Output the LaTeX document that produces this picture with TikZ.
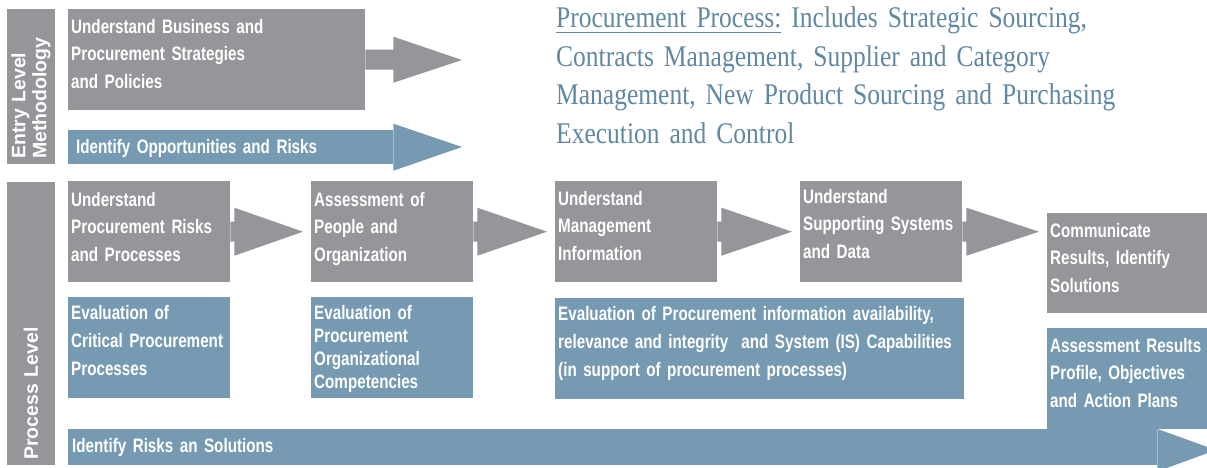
\documentclass[tikz,border=0pt]{standalone}
\usepackage{fontspec}
\usetikzlibrary{calc}

\setmainfont{Liberation Serif}
\newfontfamily\boxfont{Liberation Sans}[FakeStretch=0.78]
\newfontfamily\sidefont{Liberation Sans}
\newfontfamily\headfont{Liberation Serif}[FakeStretch=0.85]
\hyphenpenalty=10000
\exhyphenpenalty=10000

\definecolor{greyc}{RGB}{150,149,154}
\definecolor{bluec}{RGB}{117,154,177}
\definecolor{titlec}{RGB}{96,136,163}

% underlined words in the heading
\newcommand{\headul}[1]{\setbox0\hbox{#1}\rlap{\rule[-5.3pt]{\wd0}{1.3pt}}\box0\relax}

% grey step arrow from one box to the next one
\newcommand{\steparrow}[2]{%
  \fill[greyc] ($(#1.east)+(0pt,10pt)$) -- ($(#1.east)+(4pt,10pt)$) -- ($(#1.east)+(4pt,24pt)$)
    -- ($(#2.west |- #1.east)+(-8pt,0pt)$)
    -- ($(#1.east)+(4pt,-24pt)$) -- ($(#1.east)+(4pt,-10pt)$) -- ($(#1.east)+(0pt,-10pt)$) -- cycle;}

\begin{document}
\begin{tikzpicture}[x=1pt,y=-1pt,
  greybox/.style={fill=greyc, text=white, anchor=north west, inner xsep=3pt, inner ysep=0pt,
    text width=156pt, align=left, font=\boxfont\bfseries\fontsize{19.5}{27.5}\selectfont,
    text height=25pt, text depth=76pt},
  bluebox/.style={greybox, fill=bluec},
  levelbar/.style={fill=greyc, text=white, rotate=90, anchor=south west, inner xsep=5pt, inner ysep=0pt,
    minimum height=48pt, align=left, font=\sidefont\bfseries\fontsize{19.5}{21}\selectfont}]
\path[use as bounding box, fill=white] (0,0) rectangle (1207,468);

% level bars on the left
\node[levelbar, text width=145pt] (entrybar) at (55,164) {Entry Level\\Methodology};
\node[levelbar, text width=273pt] (procbar) at (55,465) {Process Level};

% entry level
\node[greybox, text width=291pt, text height=24pt, text depth=77pt] (ent1) at (68,9)
  {Understand Business and\\Procurement Strategies\\and Policies};
\coordinate (enttip) at (462,60);
\fill[greyc] ($(ent1.east)+(0pt,10pt)$) -- ($(ent1.east)+(28pt,10pt)$) -- ($(ent1.east)+(28pt,23pt)$)
  -- (enttip) -- ($(ent1.east)+(28pt,-23pt)$) -- ($(ent1.east)+(28pt,-10pt)$) -- ($(ent1.east)+(0pt,-10pt)$) -- cycle;

\node[bluebox, inner xsep=8pt, text width=309pt, text height=23pt, text depth=11pt] (opp) at (68,130)
  {Identify Opportunities and Risks};
\coordinate (opptip) at (462,147);
\fill[bluec] (opp.north east) -- ($(opp.east)+(0pt,23.5pt)$) -- (opptip) -- ($(opp.east)+(0pt,-23.5pt)$) -- (opp.south east) -- cycle;

\node[anchor=base west, inner sep=0pt, text width=600pt, align=left, text=titlec,
  font=\headfont\fontsize{30}{38.5}\selectfont] (title) at (556,28)
  {\headul{Procurement Process:} Includes Strategic Sourcing,\\Contracts Management, Supplier and Category\\Management, New Product Sourcing and Purchasing\\Execution and Control};

% process level, top row
\node[greybox] (b1) at (68,181) {Understand\\Procurement Risks\\and Processes};
\node[greybox] (b2) at (311,181) {Assessment of\\People and\\Organization};
\node[greybox, text height=24pt, text depth=77pt] (b3) at (555,181) {Understand\\Management\\Information};
\node[greybox, text height=22pt, text depth=79pt] (b4) at (800,181) {Understand\\Supporting~Systems\\and Data};
\node[greybox, text height=24pt, text depth=76pt] (b5) at (1047,213) {Communicate\\Results, Identify\\Solutions};
\steparrow{b1}{b2}
\steparrow{b2}{b3}
\steparrow{b3}{b4}
\steparrow{b4}{b5}

% process level, evaluations
\node[bluebox, font=\boxfont\bfseries\fontsize{19.5}{28}\selectfont, text height=22pt, text depth=79pt] (e1) at (68,297)
  {Evaluation of\\Critical~Procurement\\Processes};
\node[bluebox, font=\boxfont\bfseries\fontsize{19.5}{23}\selectfont, text height=22pt, text depth=79pt] (e2) at (311,297)
  {Evaluation of\\Procurement\\Organizational\\Competencies};
\node[bluebox, font=\boxfont\bfseries\fontsize{19.5}{28}\selectfont, text width=403pt, text height=22pt, text depth=79pt] (e3) at (555,298)
  {Evaluation of Procurement information availability,\\relevance~and~integrity\ \ and~System~(IS)~Capabilities\\(in support of procurement processes)};
\node[bluebox, text height=24pt, text depth=77pt] (e5) at (1047,328)
  {Assessment~Results\\Profile, Objectives\\and Action Plans};

% bottom arrow
\node[bluebox, inner xsep=4pt, text width=1081pt, text height=23pt, text depth=13pt] (risks) at (68,429)
  {Identify Risks an Solutions};
\coordinate (risktip) at (1216,450);
\fill[bluec] (risks.north east) -- (risktip) -- ($(risks.south east)+(0pt,-6pt)$) -- (risks.south east) -- cycle;
\end{tikzpicture}
\end{document}
